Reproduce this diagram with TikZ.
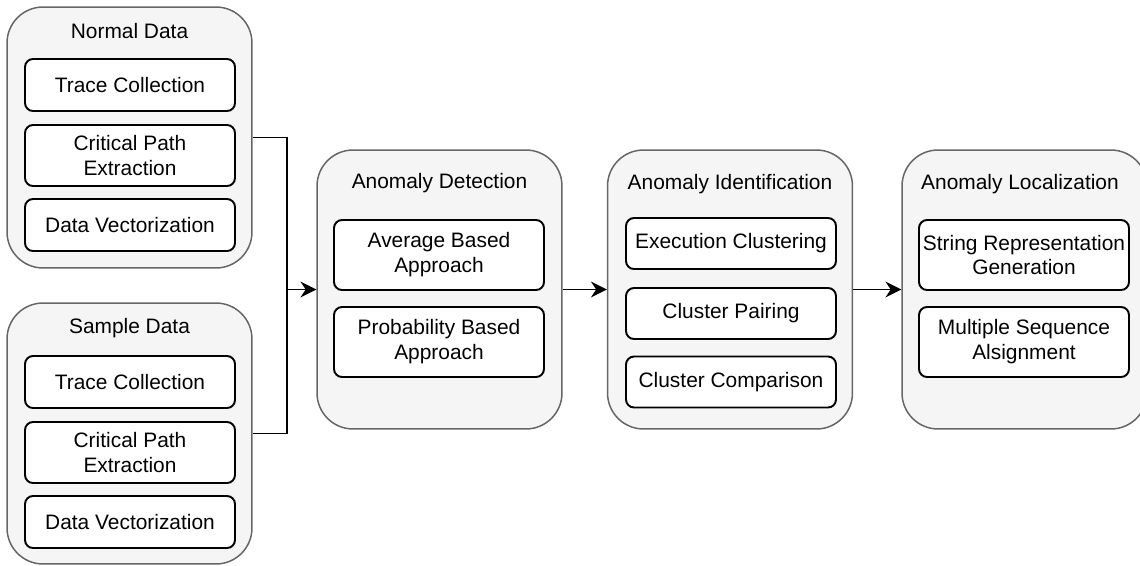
\documentclass[tikz,border=0pt]{standalone}
\usepackage{fontspec}
\setmainfont{Liberation Sans}
\usetikzlibrary{arrows.meta}
\usetikzlibrary{calc}

\begin{document}
\begin{tikzpicture}[x=0.02cm, y=-0.02cm,
        group/.style={draw=black!60, fill=black!4, line width=0.85pt, rounded corners=0.72cm,
                minimum width=4.9cm},
        title/.style={font=\fontsize{11.9}{14.2}\selectfont},
        stage/.style={draw=black, fill=white, line width=1.1pt, rounded corners=0.16cm,
                minimum width=4.2cm, align=center, inner sep=0pt,
                font=\fontsize{11.9}{14.2}\selectfont},
        link/.style={black, line width=1.1pt},
        flow/.style={link, -{Stealth[length=9pt, width=9pt, inset=3pt]}}]
        \useasboundingbox (0,0) rectangle (1140,565);
        \clip (0,0) rectangle (1140,565);

        % the four groups and the two data groups
        \node[group, minimum height=5.22cm] (normal) at (129.5,137.5) {};
        \node[group, minimum height=5.22cm] (sample) at (129.5,433.5) {};
        \node[group, minimum height=5.58cm] (detect) at (439.5,289.5) {};
        \node[group, minimum height=5.58cm] (ident) at (730,289.5) {};
        \node[group, minimum height=5.58cm] (local) at (1024.5,289.5) {};

        \node[title] (normaltitle) at (129.5,31) {Normal Data};
        \node[title] (sampletitle) at (129.5,328) {Sample Data};
        \node[title] (detecttitle) at (439.5,183) {Anomaly Detection};
        \node[title] (identtitle) at (730,184) {Anomaly Identification};
        \node[title] (localtitle) at (1020,184) {Anomaly Localization};

        % steps of the data groups
        \foreach \g/\y in {normal/0, sample/297} {
                \node[stage, minimum height=1.04cm] (\g trace) at (130,85+\y) {Trace Collection};
                \node[stage, minimum height=1.22cm] (\g crit) at (130,155.5+\y) {Critical Path\\Extraction};
                \node[stage, minimum height=1.04cm] (\g vect) at (130,225+\y) {Data Vectorization};
            }

        \node[stage, minimum height=1.4cm] (average) at (439,255) {Average Based\\Approach};
        \node[stage, minimum height=1.4cm] (probability) at (439,342) {Probability Based\\Approach};

        \node[stage, minimum height=1.02cm] (execution) at (731,243.5) {Execution Clustering};
        \node[stage, minimum height=1.02cm] (pairing) at (731,313.5) {Cluster Pairing};
        \node[stage, minimum height=1.02cm] (comparison) at (731,382) {Cluster Comparison};

        \node[stage, minimum height=1.4cm] (string) at (1024,255) {String Representation\\Generation};
        \node[stage, minimum height=1.4cm] (msa) at (1024,342) {Multiple Sequence\\Alsignment};

        % connectors
        \coordinate (joint) at (287,289.5);
        \draw[link] (normal.east) -| (joint);
        \draw[link] (sample.east) -| (joint);
        \draw[flow] (joint) -- (detect.west);
        \draw[flow] (detect.east) -- (ident.west);
        \draw[flow] (ident.east) -- (local.west);
    \end{tikzpicture}
\end{document}
